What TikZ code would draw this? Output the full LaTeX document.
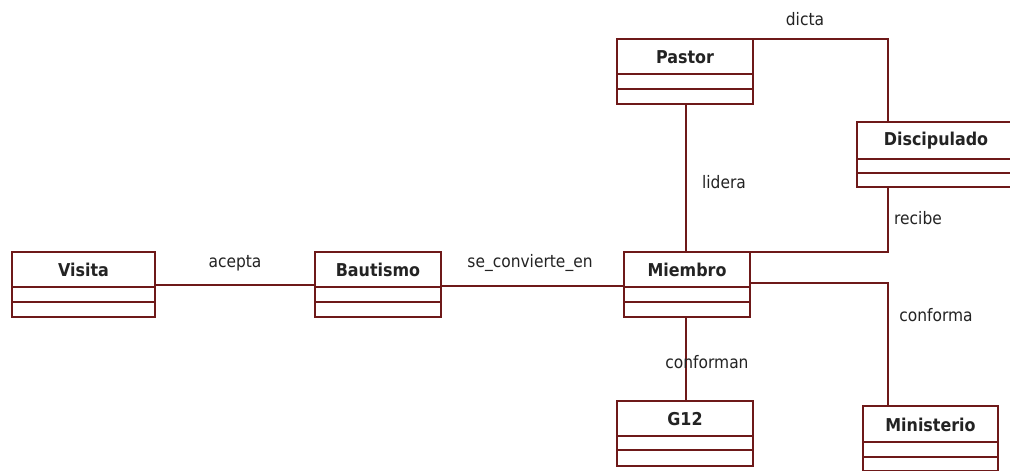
\documentclass[tikz,border=0pt]{standalone}
\usepackage{fontspec}
\setmainfont{DejaVu Sans Condensed}
\usetikzlibrary{calc}

\definecolor{umlline}{RGB}{110,25,25}
\definecolor{umltext}{RGB}{35,35,35}

\tikzset{
  clsbox/.style={draw=umlline, line width=1.2pt, fill=white, rectangle,
    minimum height=65pt, inner sep=0pt, outer sep=0pt},
  clsline/.style={draw=umlline, line width=1.2pt},
  clsname/.style={font=\fontsize{17.7}{17.7}\selectfont\bfseries, text=umltext, inner sep=0pt},
  assoc/.style={draw=umlline, line width=1.2pt},
  assoclabel/.style={font=\fontsize{17.2}{17.2}\selectfont, text=umltext, inner sep=0pt},
}

% #1 node name, #2 x, #3 y (top left), #4 width, #5 and #6 divider offsets, #7 class title
\newcommand{\umlclass}[7]{%
  \node[clsbox, minimum width=#4pt, anchor=north west] (#1) at (#2,#3) {};
  \draw[clsline] ($(#1.north west)+(0,#5)$) -- ($(#1.north east)+(0,#5)$);
  \draw[clsline] ($(#1.north west)+(0,#6)$) -- ($(#1.north east)+(0,#6)$);
  \node[clsname] (#1-name) at ($(#1.north)+(0,#5/2+0.5)$) {#7};
}

\begin{document}
\begin{tikzpicture}[x=1pt, y=-1pt]
  \useasboundingbox (0,0) rectangle (1010,471);
  \fill[white] (0,0) rectangle (1010,471);
  \clip (0,0) rectangle (1010,471);

  % classes
  \umlclass{visita}{12}{252}{143}{35}{50}{Visita}
  \umlclass{bautismo}{315}{252}{126}{35}{50}{Bautismo}
  \umlclass{miembro}{624}{252}{126}{35}{50}{Miembro}
  \umlclass{pastor}{617}{39}{136}{35}{50}{Pastor}
  \umlclass{discipulado}{857}{122}{158}{37}{51}{Discipulado}
  \umlclass{g12}{617}{401}{136}{35}{49}{G12}
  \umlclass{ministerio}{863}{406}{135}{36}{51}{Ministerio}

  % attachment points of the associations
  \coordinate (vis-r)  at ($(visita.north east)+(0,33)$);
  \coordinate (bau-l)  at ($(bautismo.north west)+(0,33)$);
  \coordinate (bau-r)  at ($(bautismo.north east)+(0,34)$);
  \coordinate (mie-l)  at ($(miembro.north west)+(0,34)$);
  \coordinate (pas-b)  at ($(pastor.south west)+(69,0)$);
  \coordinate (mie-t)  at ($(miembro.north west)+(62,0)$);
  \coordinate (mie-b)  at ($(miembro.south west)+(62,0)$);
  \coordinate (g12-t)  at ($(g12.north west)+(69,0)$);
  \coordinate (dis-t)  at ($(discipulado.north west)+(31,0)$);
  \coordinate (dis-b)  at ($(discipulado.south west)+(31,0)$);
  \coordinate (mie-r)  at ($(miembro.north east)+(0,31)$);
  \coordinate (min-t)  at ($(ministerio.north west)+(25,0)$);

  % associations
  \draw[assoc] (vis-r) -- (bau-l);
  \draw[assoc] (bau-r) -- (mie-l);
  \draw[assoc] (pas-b) -- (pas-b |- mie-t);
  \draw[assoc] (pastor.north east) -| (dis-t);
  \draw[assoc] (dis-b) |- (miembro.north east);
  \draw[assoc] (mie-r) -| (min-t);
  \draw[assoc] (mie-b) -- (mie-b |- g12-t);

  % association names
  \node[assoclabel] (l-acepta) at (235,263) {acepta};
  \node[assoclabel] (l-convierte) at (530,263) {se\_convierte\_en};
  \node[assoclabel] (l-dicta) at (805,19) {dicta};
  \node[assoclabel] (l-lidera) at (724,182) {lidera};
  \node[assoclabel] (l-recibe) at (918,218) {recibe};
  \node[assoclabel] (l-conforma) at (936,315) {conforma};
  \node[assoclabel] (l-conforman) at (707,362) {conforman};
\end{tikzpicture}
\end{document}
